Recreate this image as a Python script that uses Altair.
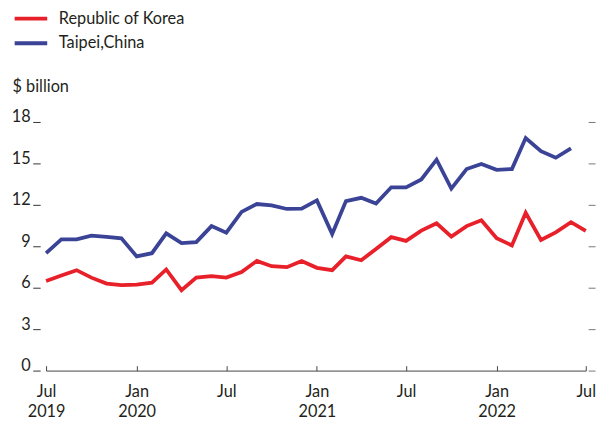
import altair as alt
import pandas as pd

# ---- data ----
month_starts = pd.date_range("2019-07-01", "2022-07-01", freq="MS").strftime("%Y-%m-%d").tolist()

korea = [6.49, 6.88, 7.27, 6.73, 6.30, 6.18, 6.23, 6.37, 7.32, 5.82,
         6.73, 6.84, 6.73, 7.13, 7.94, 7.56, 7.49, 7.94, 7.44, 7.27,
         8.27, 7.99, 8.80, 9.66, 9.39, 10.13, 10.66, 9.70, 10.46, 10.89,
         9.59, 9.06, 11.42, 9.46, 10.01, 10.75, 10.11]
taipei = [8.50, 9.50, 9.50, 9.77, 9.68, 9.58, 8.27, 8.50, 9.94, 9.23,
          9.30, 10.46, 9.99, 11.49, 12.06, 11.96, 11.70, 11.73, 12.32, 9.89,
          12.27, 12.51, 12.09, 13.27, 13.27, 13.84, 15.27, 13.18, 14.59, 14.96,
          14.54, 14.59, 16.84, 15.89, 15.41, 16.09]

series_names = ["Republic of Korea", "Taipei,China"]
series_colors = ["#E8202A", "#3A4396"]
y_ticks = [0, 3, 6, 9, 12, 15, 18]
x_tick_dates = ["2019-07-01", "2020-01-01", "2020-07-01", "2021-01-01",
                "2021-07-01", "2022-01-01", "2022-07-01"]

rows = []
for d, v in zip(month_starts, korea):
    rows.append({"date": d, "value": v, "series": series_names[0]})
for d, v in zip(month_starts, taipei):
    rows.append({"date": d, "value": v, "series": series_names[1]})
df = pd.DataFrame(rows)

W, H = 547, 252
FONT = "Lato"
FS = 16.5
TXT = "#231F20"


def dt(s):
    return alt.DateTime(year=int(s[:4]), month=int(s[5:7]), date=1, utc=True)


x_vals = [dt(s) for s in x_tick_dates]
x_scale = alt.Scale(type="utc", domain=[dt(x_tick_dates[0]), dt(x_tick_dates[-1])])
y_scale = alt.Scale(domain=[0, 18], nice=False)

label_expr = ("utcmonth(datum.value) == 0 ? ['Jan', '' + utcyear(datum.value)] : "
              "(utcyear(datum.value) == 2019 ? ['Jul', '2019'] : 'Jul')")

lines = alt.Chart(df).mark_line(strokeWidth=3.8).encode(
    x=alt.X("date:T", scale=x_scale,
            axis=alt.Axis(orient="bottom", values=x_vals, labelExpr=label_expr,
                          ticks=False, domain=True, domainColor="#444", domainWidth=1,
                          labelPadding=26.5, labelBaseline="alphabetic", labelLineHeight=20,
                          labelFontSize=FS, labelFont=FONT, labelColor=TXT,
                          labelOverlap=False, labelFlush=False, grid=False, title=None)),
    y=alt.Y("value:Q", scale=y_scale,
            axis=alt.Axis(orient="left", values=y_ticks, domain=False, ticks=True,
                          tickSize=7.5, tickColor="#333", tickWidth=1, offset=6,
                          labelPadding=2.6, labelFontSize=FS, labelFont=FONT,
                          labelBaseline="alphabetic", labelColor=TXT, grid=False,
                          title="$ billion", titleAngle=0, titleAlign="left",
                          titleBaseline="middle", titleX=-28.6, titleY=-35.7,
                          titleFontSize=FS, titleFontWeight="normal", titleFont=FONT,
                          titleColor=TXT)),
    color=alt.Color("series:N", scale=alt.Scale(domain=series_names, range=series_colors),
                    legend=alt.Legend(orient="none", legendX=-34.6, legendY=-113.0,
                                      title=None, symbolType="M-1,0H5", symbolSize=121,
                                      symbolStrokeWidth=4, labelFontSize=FS, labelFont=FONT,
                                      labelColor=TXT, labelOffset=31, rowPadding=8,
                                      padding=0)),
)

guide_layer = alt.Chart(df).mark_line(strokeOpacity=0).encode(
    x=alt.X("date:T", scale=x_scale,
            axis=alt.Axis(orient="top", offset=-H, values=x_vals, labels=False,
                          domain=False, ticks=True, tickSize=5, tickColor="#444",
                          tickWidth=1, grid=False, title=None)),
    y=alt.Y("value:Q", scale=y_scale,
            axis=alt.Axis(orient="right", offset=2.4, values=y_ticks, labels=False,
                          domain=False, ticks=True, tickSize=7, tickColor="#777",
                          tickWidth=1, grid=False, title=None)),
    detail="series:N",
)

chart = alt.layer(lines, guide_layer).resolve_scale(
    x="independent", y="independent"
).properties(
    width=W, height=H,
    autosize=alt.AutoSizeParams(type="none"),
    padding={"left": 38.6, "top": 112.7, "right": 12.4, "bottom": 50.3},
).configure_view(stroke=None)

chart.save("out.html", embed_options={"renderer": "svg", "actions": False})
